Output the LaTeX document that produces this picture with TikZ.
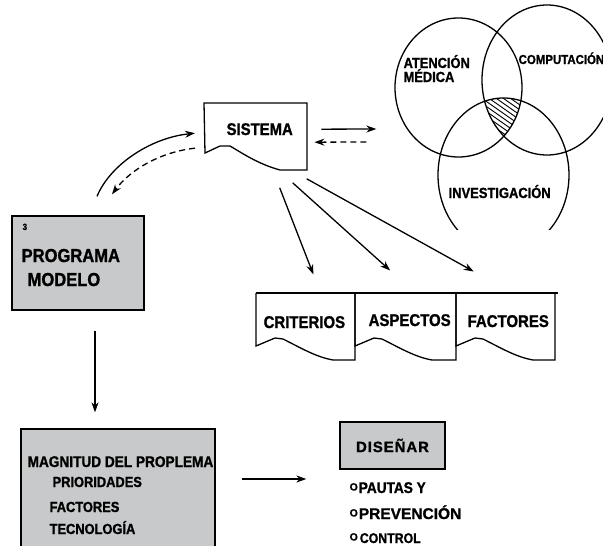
\documentclass[tikz,border=0pt]{standalone}
\usepackage{fontspec}
\setmainfont[FakeStretch=0.88, BoldFeatures={FakeBold=1.2}]{Liberation Sans}
\newfontfamily\anchafont[BoldFeatures={FakeBold=1.2}]{Liberation Sans}
\usetikzlibrary{arrows.meta,shapes,positioning}
\definecolor{gris}{RGB}{200,201,203}
\newcommand{\tam}[1]{\fontsize{#1}{#1}\selectfont\bfseries}
\newcommand{\vineta}{\raisebox{2.5pt}{\anchafont\tam{10.5}O}\hspace{1pt}}

\begin{document}
\begin{tikzpicture}[x=1pt, y=-1pt, line width=1.3pt, >={Stealth[length=10pt,width=7pt]},
                texto/.style={inner sep=0pt, anchor=base west},
                caja/.style={draw, fill=gris, inner sep=0pt},
                flecha/.style={->},
                punteada/.style={->, dash pattern=on 6pt off 4pt},
                conjunto/.style={ellipse, draw, inner sep=0pt}]
                \useasboundingbox (0,0) rectangle (603,546);
                \clip (0,0) rectangle (603,546);

                % conjuntos
                \node[conjunto, minimum width=127pt, minimum height=139pt] (atencion) at (458.5,87.5) {};
                \node[conjunto, minimum width=130pt, minimum height=150pt] (computacion) at (547,80) {};
                \begin{scope}
                    \clip (0,0) rectangle (603,229);
                    \node[conjunto, minimum width=131pt, minimum height=154pt] (investigacion) at (503.5,175) {};
                \end{scope}
                \begin{scope}
                    \clip (atencion.center) ellipse [x radius=63.5pt, y radius=69.5pt];
                    \clip (computacion.center) ellipse [x radius=65pt, y radius=75pt];
                    \clip (investigacion.center) ellipse [x radius=65.5pt, y radius=77pt];
                    \foreach \k in {-10,...,10}
                        \draw[line width=0.9pt] (470,90+5*\k) -- (540,139+5*\k);
                \end{scope}
                \node[texto, font=\tam{14.6}] (atencion-txt) at (403,68) {ATENCIÓN};
                \node[texto, font=\tam{14.6}] (medica-txt) at (403,82) {MÉDICA};
                \node[texto, font=\tam{13}] (computacion-txt) at (518,64) {COMPUTACIÓN};
                \node[texto, font=\tam{14.7}] (investigacion-txt) at (448,198) {INVESTIGACIÓN};

                % sistema
                \draw (204,103) -- (307,103) -- (307,170) -- (280,170) .. controls (258,164) and (242,153) .. (230,146) -- (220,146) -- (205,153) -- cycle;
                \node[texto, font=\tam{16.9}] (sistema) at (226,135) {SISTEMA};

                % criterios, aspectos, factores
                \draw (256,293) -- (558,293);
                \foreach \x/\w in {256/99, 355/101, 456/99}
                    \draw (\x,293) -- (\x,346) -- (\x+19,338) -- (\x+27,339) .. controls (\x+45,348) and (\x+60,357) .. (\x+77,360) -- (\x+\w,360) -- (\x+\w,293);
                \node[texto, font=\tam{17}] (criterios) at (263,328) {CRITERIOS};
                \node[texto, font=\tam{17}] (aspectos) at (368,326) {ASPECTOS};
                \node[texto, font=\tam{17}] (factores) at (467,327) {FACTORES};

                % programa modelo
                \node[caja, minimum width=132pt, minimum height=94pt] (programa) at (78,263) {};
                \node[texto, font=\tam{9}] (nota) at (22,230) {3};
                \node[texto, font=\tam{18.8}] (programa-txt) at (21,262) {PROGRAMA};
                \node[texto, font=\tam{18.8}] (modelo-txt) at (27,286) {MODELO};

                % magnitud
                \node[caja, minimum width=194pt, minimum height=131pt] (magnitud) at (118,494.5) {};
                \node[texto, font=\tam{15.5}] (magnitud-txt) at (27,467) {MAGNITUD DEL PROPLEMA};
                \node[texto, font=\tam{14.6}] (prioridades-txt) at (52,487) {PRIORIDADES};
                \node[texto, font=\tam{14.6}] (factores-txt) at (49,512) {FACTORES};
                \node[texto, font=\tam{14.6}] (tecnologia-txt) at (49,534) {TECNOLOGÍA};

                % disenar
                \node[caja, minimum width=105pt, minimum height=47pt, font=\anchafont\tam{15}\addfontfeature{LetterSpace=6}] (disenar) at (392.5,445.5) {DISEÑAR};
                \node[texto, font=\tam{15.5}] (pautas) at (349,493) {\vineta PAUTAS Y};
                \node[texto, font=\anchafont\tam{15.5}] (prevencion) at (349,519) {\vineta PREVENCIÓN};
                \node[texto, font=\tam{14}] (control) at (349,543) {\vineta\hspace{1pt}CONTROL};

                % conectores
                \draw[flecha] ([shift={(19,-19)}]programa.north) .. controls (110,165) and (150,138) .. ([shift={(-31,4)}]sistema.west);
                \draw[punteada] ([shift={(-31,19)}]sistema.west) .. controls (160,152) and (130,170) .. ([shift={(34,-21)}]programa.north);
                \draw[flecha] ([shift={(28,0)}]sistema.east) -- ([shift={(-18,41.5)}]atencion.west);
                \draw[punteada] ([shift={(-28,54.5)}]atencion.west) -- ([shift={(21,13)}]sistema.east);
                \draw[flecha] ([shift={(20,52)}]sistema.south) -- ([shift={(9,-41)}]criterios.north);
                \draw[flecha] ([shift={(33,47)}]sistema.south) -- ([shift={(-19.5,-43)}]aspectos.north);
                \draw[flecha] ([shift={(47,43)}]sistema.south) -- ([shift={(-34.5,-43)}]factores.north);
                \draw[flecha] ([shift={(17,20)}]programa.south) -- ([shift={(-23,-16)}]magnitud.north);
                \draw[flecha] ([shift={(26,-15.5)}]magnitud.east) -- ([shift={(-33,33.5)}]disenar.west);
\end{tikzpicture}
\end{document}
